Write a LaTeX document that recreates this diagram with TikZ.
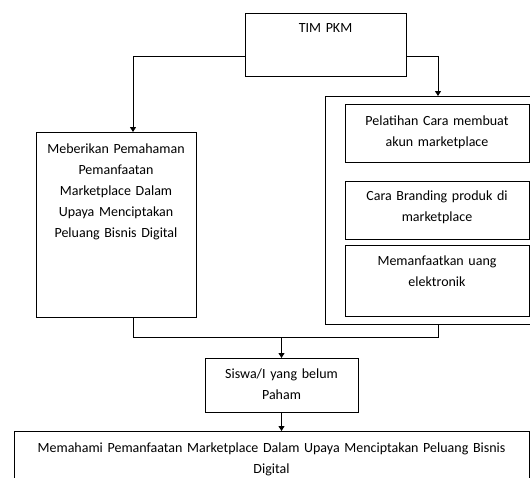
\documentclass[tikz,border=0pt]{standalone}
\usepackage{fontspec}
\setmainfont{Carlito}
\usepackage{tikz}
\usetikzlibrary{arrows.meta, calc}

\begin{document}
\begin{tikzpicture}[x=1pt, y=-1pt,
        box/.style={draw, rectangle, anchor=north west, inner sep=0pt, outer sep=0pt, align=center, line width=1pt, font=\fontsize{14}{21}\selectfont},
        framebox/.style={draw, rectangle, anchor=north west, inner sep=0pt, outer sep=0pt, line width=1pt},
        arrow/.style={-{Triangle[length=5pt, width=6pt]}, line width=1pt},
        link/.style={line width=1pt}
    ]

    \useasboundingbox (0,0) rectangle (530,477);
    \clip (0,0) rectangle (530,477);

    % --- Top: TIM PKM ---
    \node[box, text width=161, text height=19, text depth=44] (tim) at (245,13) {TIM PKM};

    % --- Left branch ---
    \node[box, text width=160, text height=21, text depth=164] (pemahaman) at (36,132)
        {Meberikan Pemahaman\\Pemanfaatan\\Marketplace Dalam\\Upaya Menciptakan\\Peluang Bisnis Digital};

    % --- Right branch: frame with three activities ---
    \node[framebox, minimum width=220, minimum height=228] (kegiatan) at (325,96) {};
    \node[box, text width=184, text height=21, text depth=37] (pelatihan) at (345,104)
        {Pelatihan Cara membuat\\akun marketplace};
    \node[box, text width=184, text height=19, text depth=39] (branding) at (345,181)
        {Cara Branding produk di\\marketplace};
    \node[box, text width=184, text height=20, text depth=51] (uang) at (345,245)
        {Memanfaatkan uang\\elektronik};

    % --- Bottom rows ---
    \node[box, text width=153, text height=20, text depth=34] (siswa) at (205,358)
        {Siswa/I yang belum\\Paham};
    \node[box, text width=515, text height=21, text depth=60] (hasil) at (14,431)
        {Memahami Pemanfaatan Marketplace Dalam Upaya Menciptakan Peluang Bisnis\\Digital};

    % --- Junction points ---
    \coordinate (kiri) at (133,337);
    \coordinate (kanan) at (438,337);
    \coordinate (tengah) at (siswa.north |- kiri);

    % --- Arrows ---
    \draw[arrow] ($(tim.west)+(0,12)$) -| (pemahaman.north -| kiri);
    \draw[arrow] ($(tim.east)+(0,12)$) -| (kegiatan.north -| kanan);
    \draw[link] (pemahaman.south -| kiri) -- (kiri) -- (kanan) -- (kegiatan.south -| kanan);
    \draw[arrow] (tengah) -- (siswa.north);
    \draw[arrow] (siswa.south) -- (hasil.north -| siswa.south);

\end{tikzpicture}
\end{document}
